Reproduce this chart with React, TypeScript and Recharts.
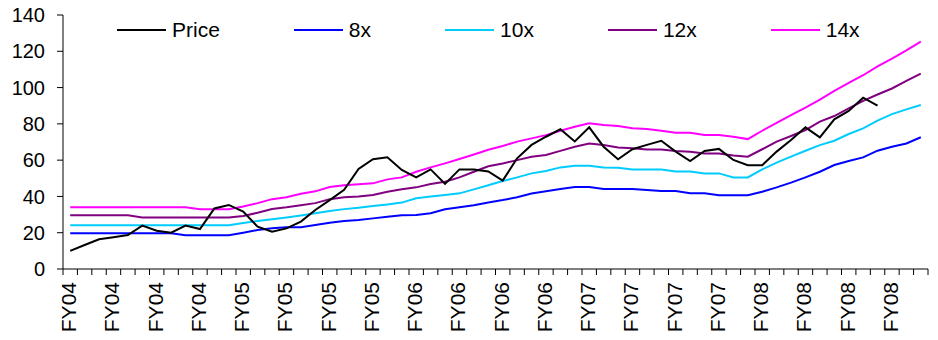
import { LineChart, Line, XAxis, YAxis, Legend } from "recharts";

const fiscalYears = ["FY04", "FY05", "FY06", "FY07", "FY08"];
const periods = fiscalYears.flatMap((fy) => Array(12).fill(fy) as string[]);

const yTicks = [0, 20, 40, 60, 80, 100, 120, 140];
const boundaryTicks = periods.map((_, i) => i).concat(periods.length);

// price stops a few months before the multiples do
const price = [
  10, 13.2, 16.4, 17.5, 18.7, 23.9, 21.1, 20, 23.9, 22,
  33.4, 35.3, 31.6, 23.3, 20.6, 22.4, 26.1, 32.5, 38, 43.7,
  55.1, 60.5, 61.6, 54.6, 50.5, 54.9, 46.9, 54.9, 54.9, 53.8,
  48.7, 61, 68.4, 72.9, 77, 70.3, 78.1, 67.4, 60.5, 66,
  68.4, 70.7, 64.7, 59.5, 65.1, 66.2, 60.1, 57.2, 57.2, 64.7,
  71.1, 78.1, 72.6, 82.5, 87.1, 94.4, 90,
];
const pe8 = [
  19.7, 19.7, 19.7, 19.7, 19.7, 19.7, 19.7, 19.7, 18.6, 18.6,
  18.6, 18.6, 20, 21.5, 22.4, 23, 23, 24.2, 25.5, 26.4,
  27, 27.9, 28.8, 29.6, 29.8, 30.7, 32.9, 34, 35.1, 36.7,
  38, 39.5, 41.6, 42.8, 44.1, 45.2, 45.2, 44.1, 44.1, 44.1,
  43.5, 43, 43, 41.7, 41.7, 40.6, 40.6, 40.6, 42.6, 45,
  47.6, 50.5, 53.6, 57.3, 59.5, 61.5, 65.2, 67.4, 69.2, 72.6,
];
const pe10 = [
  24.1, 24.1, 24.1, 24.1, 24.1, 24.1, 24.1, 24.1, 24.1, 24.1,
  24.1, 24.1, 25.3, 26.5, 27.4, 28.4, 29.5, 30.7, 32, 33,
  33.8, 34.7, 35.6, 36.6, 39, 39.9, 40.8, 41.7, 43.9, 46.2,
  48.5, 50.5, 52.7, 54, 56, 56.9, 56.9, 56, 55.8, 54.9,
  54.9, 54.9, 53.8, 53.8, 52.7, 52.7, 50.5, 50.5, 54.9, 58.6,
  61.9, 65.2, 68.3, 70.7, 74.4, 77.5, 81.8, 85.4, 88, 90.4,
];
const pe12 = [
  29.6, 29.6, 29.6, 29.6, 29.6, 28.4, 28.4, 28.4, 28.4, 28.4,
  28.4, 28.4, 29.2, 31, 33.1, 34, 35.1, 36.3, 38.5, 39.5,
  39.9, 40.8, 42.6, 43.9, 45, 46.9, 48.1, 50.5, 53.6, 56.6,
  58.2, 60, 61.9, 62.8, 65.1, 67.4, 69.2, 68.3, 67, 66.5,
  65.9, 65.9, 65, 64.6, 63.7, 63.7, 62.6, 61.9, 66, 70.2,
  73.3, 76.6, 81.2, 84.3, 88.5, 92.7, 96.2, 99.5, 103.7, 107.7,
];
const pe14 = [
  34, 34, 34, 34, 34, 34, 34, 34, 34, 33,
  33, 33, 34.4, 36.3, 38.5, 39.6, 41.5, 42.8, 45.2, 46.2,
  46.7, 47.2, 49.4, 50.5, 53.6, 56, 58.2, 60.6, 63.1, 65.7,
  67.8, 70.2, 72, 73.8, 76.2, 78.4, 80.3, 79.4, 78.8, 77.6,
  77.2, 76.2, 75.1, 75.1, 73.8, 73.8, 72.9, 71.6, 76.2, 80.6,
  84.8, 89, 93.4, 98.2, 102.6, 106.8, 111.7, 116, 120.5, 125.3,
];

const series = [
  { key: "price", name: "Price", color: "#000000" },
  { key: "pe8", name: "8x", color: "#0000FF" },
  { key: "pe10", name: "10x", color: "#00CCFF" },
  { key: "pe12", name: "12x", color: "#800080" },
  { key: "pe14", name: "14x", color: "#FF00FF" },
];

const data = periods.map((period, i) => ({
  period,
  pos: i + 0.5,
  price: price[i],
  pe8: pe8[i],
  pe10: pe10[i],
  pe12: pe12[i],
  pe14: pe14[i],
}));

const FONT = "'Liberation Sans', Arial, sans-serif";
const CHART_W = 938;
const MARGIN = { top: 15, right: 10, left: 0, bottom: 0 };
const Y_AXIS_W = 63;
const HALF_STEP = (CHART_W - MARGIN.right - Y_AXIS_W) / periods.length / 2;

// tick marks sit on month boundaries; a quarter label is centred in the month after it
const PeriodTick = (props: any) => {
  const { x, y, payload } = props;
  const v = payload.value as number;
  if (v % 3 !== 0 || v >= periods.length) return <g />;
  const cx = x + HALF_STEP;
  const ty = y + 5;
  return (
    <text
      x={cx}
      y={ty}
      dy={6}
      transform={`rotate(-90, ${cx}, ${ty})`}
      textAnchor="end"
      fontSize={21}
      fontFamily={FONT}
      fill="#000"
    >
      {periods[v]}
    </text>
  );
};

const LegendRow = () => (
  <div style={{ display: "flex", gap: 74, alignItems: "center", fontFamily: FONT, fontSize: 21, color: "#000" }}>
    {series.map((s) => (
      <div key={s.key} style={{ display: "flex", alignItems: "center" }}>
        <div style={{ width: 49, height: 2, background: s.color, marginRight: 6 }} />
        <span>{s.name}</span>
      </div>
    ))}
  </div>
);

export default function App() {
  const drawOrder = ["pe8", "pe10", "pe12", "pe14", "price"];
  return (
    <div style={{ position: "absolute", left: 0, top: 0, background: "#fff" }}>
      <LineChart width={CHART_W} height={340} data={data} margin={MARGIN}>
        <XAxis
          type="number"
          dataKey="pos"
          domain={[0, periods.length]}
          allowDataOverflow
          ticks={boundaryTicks}
          interval={0}
          tickSize={6}
          tickMargin={2}
          height={71}
          axisLine={{ stroke: "#000" }}
          tickLine={{ stroke: "#000" }}
          tick={<PeriodTick />}
        />
        <YAxis
          domain={[0, 140]}
          ticks={yTicks}
          width={Y_AXIS_W}
          tickSize={6}
          tickMargin={12}
          axisLine={{ stroke: "#000" }}
          tickLine={{ stroke: "#000" }}
          tick={{ fontSize: 20, fill: "#000", fontFamily: FONT }}
        />
        <Legend
          verticalAlign="middle"
          align="center"
          layout="horizontal"
          content={<LegendRow />}
          wrapperStyle={{ top: 18, left: 117, width: "auto" }}
        />
        {drawOrder.map((k) => {
          const s = series.find((e) => e.key === k)!;
          return (
            <Line
              key={k}
              type="linear"
              dataKey={k}
              name={s.name}
              stroke={s.color}
              strokeWidth={2}
              dot={false}
              activeDot={false}
              isAnimationActive={false}
            />
          );
        })}
      </LineChart>
    </div>
  );
}
